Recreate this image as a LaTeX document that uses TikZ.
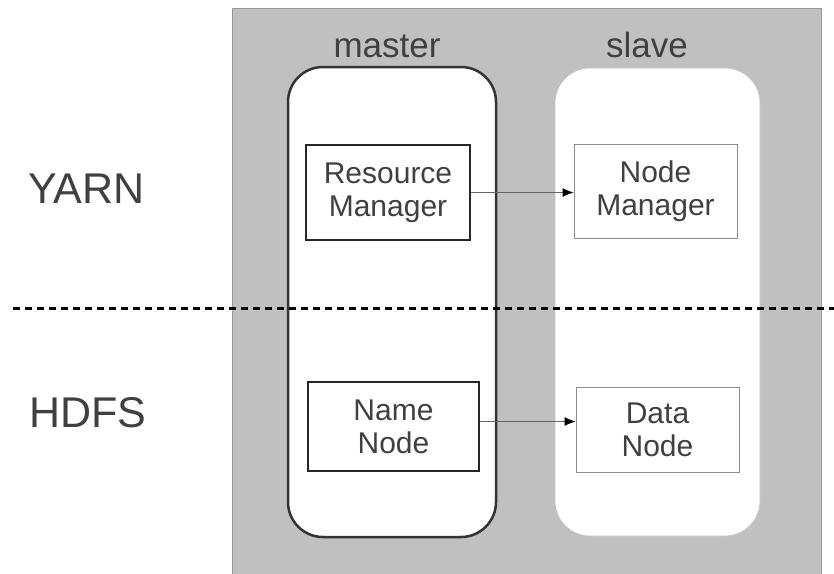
\documentclass[tikz,border=0pt]{standalone}
\usepackage{fontspec}
\setmainfont{Liberation Sans}
\usepackage{xcolor}
\usetikzlibrary{arrows.meta,positioning}
\definecolor{bggray}{HTML}{C0C0C0}
\definecolor{txtgray}{HTML}{404040}
\tikzset{
  box/.style = {draw, align=center, text=txtgray, fill=white, inner sep=0pt,
                font=\fontsize{30}{33}\selectfont},
  label/.style = {text=txtgray, inner sep=0pt, anchor=base},
  link/.style = {draw=black!60, line width=1pt, -{Latex[length=11pt,width=9pt,black]}}
}

\begin{document}
\begin{tikzpicture}[x=1pt,y=-1pt]
\useasboundingbox (0,0) rectangle (834,573);
\fill[bggray, draw=black!40] (232,8) rectangle (821,575);
\draw[line width=2.5pt, draw=black!80, fill=white, rounded corners=35pt] (288,67) rectangle (496,537);
\draw[line width=0.6pt, draw=black!25, fill=white, rounded corners=35pt] (555,68) rectangle (760,536);
\node[label, font=\fontsize{35}{35}\selectfont] (master) at (387,57) {master};
\node[label, font=\fontsize{35}{35}\selectfont] (slave) at (647,57) {slave};
\node[label, anchor=base west, font=\fontsize{43}{43}\selectfont] (yarn) at (28,203) {YARN};
\node[label, anchor=base west, font=\fontsize{43}{43}\selectfont] (hdfs) at (29,427) {HDFS};
% boxes
\node[box, line width=2.5pt, draw=black!85, minimum width=164pt, minimum height=95pt] (rm) at (388,192.5) {Resource\\Manager};
\node[box, line width=0.8pt, draw=black!45, minimum width=163pt, minimum height=94pt] (nm) at (655.5,191) {Node\\Manager};
\node[box, line width=2.5pt, draw=black!85, minimum width=171pt, minimum height=89pt] (nn) at (393.5,426.5) {Name\\Node};
\node[box, line width=0.8pt, draw=black!45, minimum width=163pt, minimum height=85pt] (dn) at (657.5,429.5) {Data\\Node};
\draw[link] (rm.east) -- (rm.east -| nm.west);
\draw[link] ([yshift=5pt]nn.east) -- ([yshift=5pt]nn.east -| dn.west);
% divider
\draw[line width=3pt, dash pattern=on 7pt off 5pt] (13,308) -- (834,308);
\end{tikzpicture}
\end{document}
